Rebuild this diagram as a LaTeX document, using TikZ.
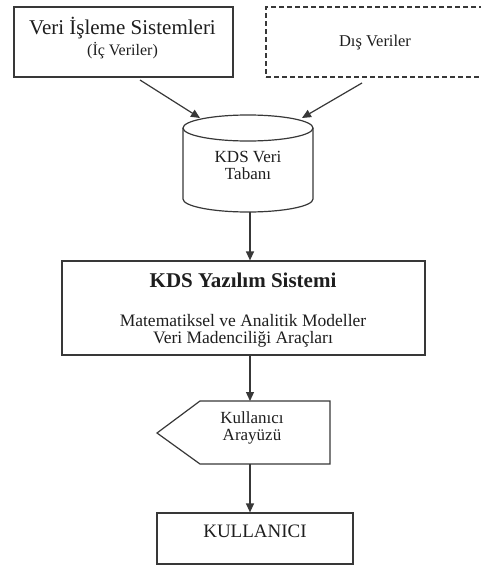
\documentclass[tikz,border=0pt]{standalone}
\usepackage{fontspec}
\setmainfont{Liberation Serif}
\newfontfamily\tnr{Liberation Serif}
\usetikzlibrary{arrows.meta}
\definecolor{linegray}{HTML}{383838}
\definecolor{textgray}{HTML}{1E1E1E}
\begin{document}
\begin{tikzpicture}[x=1pt,y=1pt,
  ln/.style={draw=linegray, line width=1.2pt},
  arr/.style={ln, -{Triangle[length=9pt,width=8pt]}},
  box/.style={ln, rectangle, inner sep=0pt},
  txt/.style={text=textgray, inner sep=0pt, align=center},
  fs/.style={font=\tnr\fontsize{#1}{17}\selectfont},
  fsb/.style={font=\tnr\bfseries\fontsize{#1}{#1}\selectfont}
]
\useasboundingbox (0,0) rectangle (481,-565);
\clip (0,0) rectangle (481,-565);
\fill[white] (0,0) rectangle (481,-565);

% source boxes
\node[box, minimum width=219pt, minimum height=70pt] (src) at (123.5,-42) {};
\node[txt, fs=21] (srcT) at (122.5,-38)
  {Veri İşleme Sistemleri\\[2.5pt]{\fontsize{16}{16}\selectfont(İç Veriler)}};

\node[box, dashed, dash pattern=on 5pt off 3pt, minimum width=230pt, minimum height=70pt] (ext) at (381,-42) {};
\node[txt, fs=16.5] (extT) at (375,-43) {Dış Veriler};

% database cylinder
\node[inner sep=0pt, minimum width=130pt, minimum height=97pt] (db) at (248,-163.5) {};
\draw[ln, fill=white] (183,-128) -- (183,-199)
  arc[start angle=180, end angle=360, x radius=65pt, y radius=13pt]
  -- (313,-128);
\draw[ln] (248,-128) ellipse[x radius=65pt, y radius=13pt];
\node[txt, fs=17] (dbT) at (248,-165.5) {KDS Veri\\Tabanı};

% software system
\node[box, minimum width=363pt, minimum height=94pt] (sys) at (243.5,-308) {};
\node[txt, fsb=21] (sysA) at (243,-280) {KDS Yazılım Sistemi};
\node[txt, fs=17.5] (sysB) at (243,-330.5)
  {Matematiksel ve Analitik Modeller\\Veri Madenciliği Araçları};

% user interface (pointed box)
\coordinate (uiTL) at (200,-401);
\coordinate (uiTR) at (330,-401);
\coordinate (uiBR) at (330,-464);
\coordinate (uiBL) at (200,-464);
\coordinate (uiP) at (157,-433);
\draw[ln] (uiP) -- (uiTL) -- (uiTR) -- (uiBR) -- (uiBL) -- cycle;
\node[txt, fs=17] (uiT) at (252,-428) {Kullanıcı\\Arayüzü};

% user
\node[box, minimum width=196pt, minimum height=51pt] (usr) at (255,-538.5) {};
\node[txt, fs=19] (usrT) at (255,-531) {KULLANICI};

% connectors
\coordinate (a1s) at (140,-80);
\coordinate (a1e) at (200,-118);
\coordinate (a2s) at (362,-83);
\coordinate (a2e) at (302,-118);
\draw[arr] (a1s) -- (a1e);
\draw[arr] (a2s) -- (a2e);

\coordinate (dbBot) at (250,-212);
\draw[arr] (dbBot) -- (dbBot |- sys.north);
\draw[arr] (250,-355) coordinate (sysBot) -- (sysBot |- uiTL);
\draw[arr] (250,-464) coordinate (uiBot) -- (uiBot |- usr.north);
\end{tikzpicture}
\end{document}
